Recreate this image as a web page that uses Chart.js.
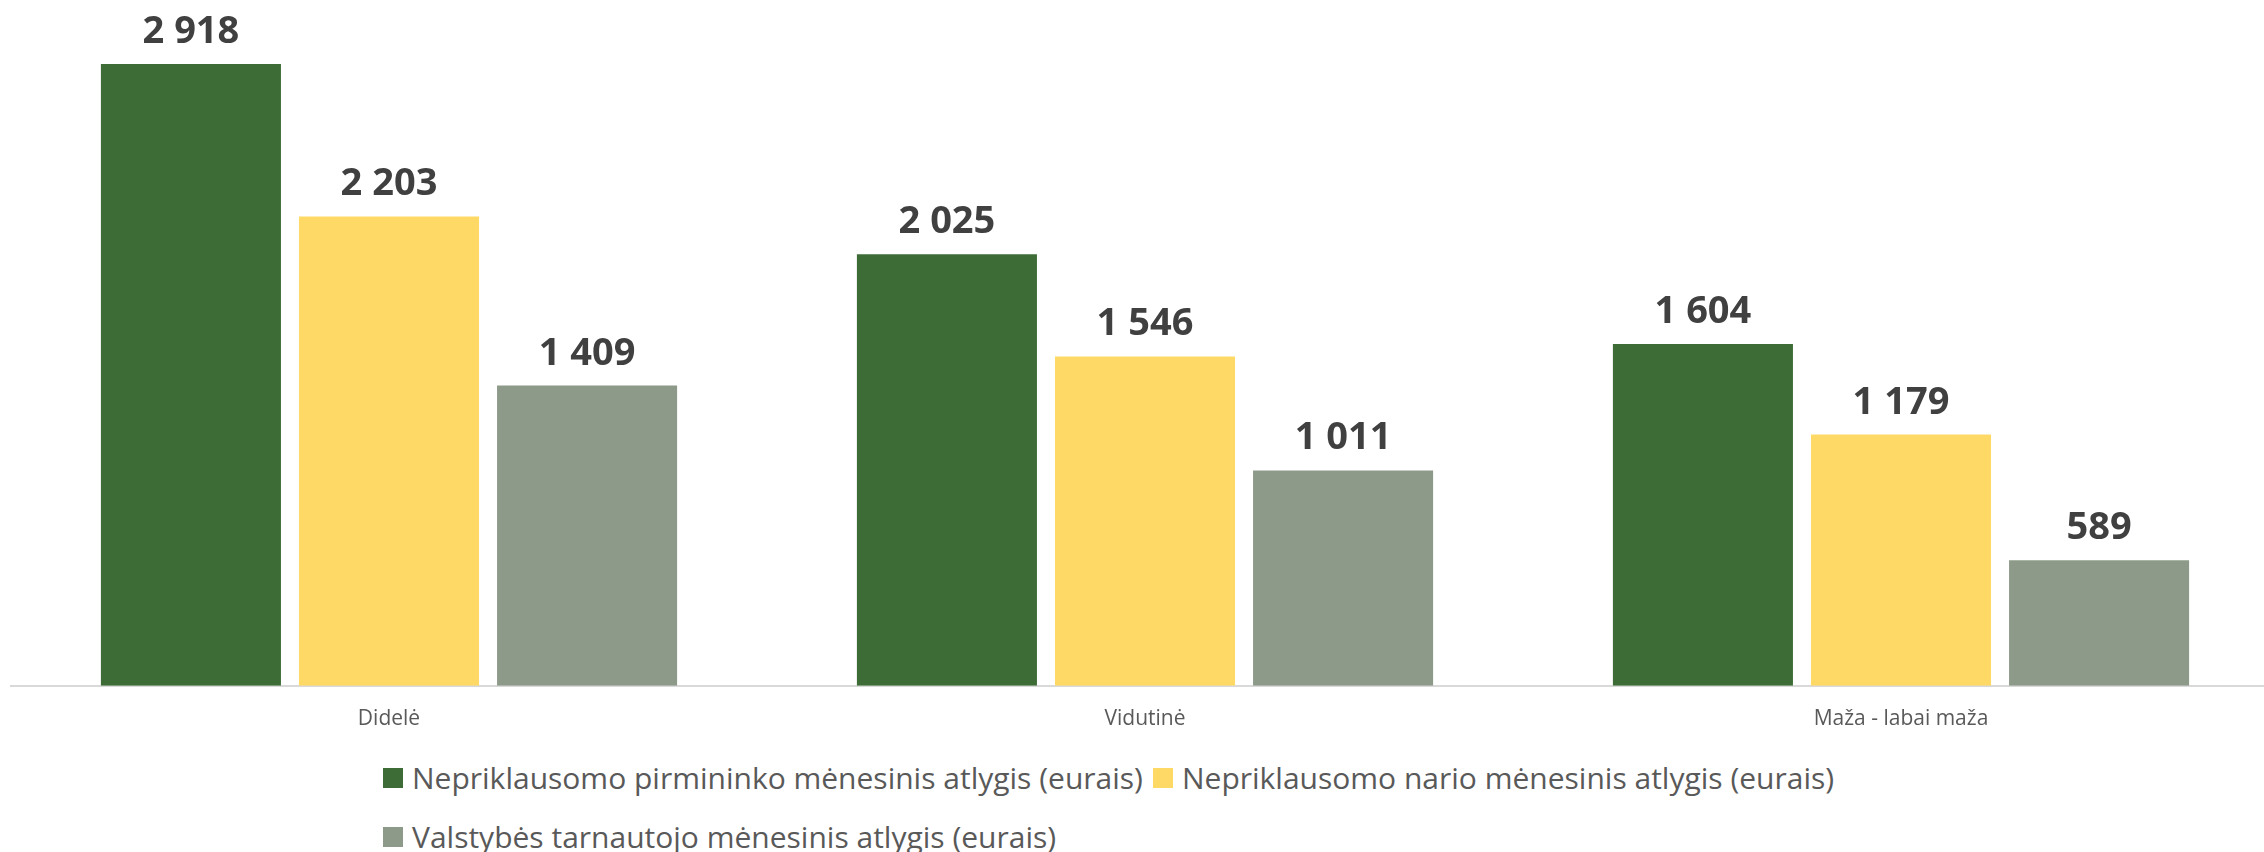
<!DOCTYPE html>
<html lang="lt">
<head>
<meta charset="utf-8">
<script src="https://cdn.jsdelivr.net/npm/chart.js@4/dist/chart.umd.min.js"></script>
<style>
  html, body { margin: 0; padding: 0; background: #fff; overflow: hidden; }
  body { width: 2264px; height: 852px; position: relative; }
  #wrap { position: absolute; left: 0; top: 0; width: 2290px; height: 745px; }
  #legend { position: absolute; left: 383px; top: 748px; width: 1600px;
    display: flex; flex-wrap: wrap; font-family: "Open Sans", sans-serif;
    font-size: 30px; color: #595959; }
  #legend .it { display: inline-flex; align-items: center; height: 59px;
    margin-right: 10px; white-space: nowrap; }
  #legend .sw { width: 20px; height: 20px; margin-right: 9px; }
</style>
</head>
<body>
<div id="wrap"><canvas id="c"></canvas></div>
<div id="legend"></div>
<script>
// Atlygis pagal įmonės dydį
const CATEGORIES = ["Didelė", "Vidutinė", "Maža - labai maža"];
const SERIES = [
  "Nepriklausomo pirmininko mėnesinis atlygis (eurais)",
  "Nepriklausomo nario mėnesinis atlygis (eurais)",
  "Valstybės tarnautojo mėnesinis atlygis (eurais)",
];
const PIRMININKO = [2918, 2025, 1604];
const NARIO = [2203, 1546, 1179];
const TARNAUTOJO = [1409, 1011, 589];

const GREEN = "#3D6C36", YELLOW = "#FFD966", GREY = "#8D9A89";
const COLORS = [GREEN, YELLOW, GREY];

const fmt = (v) => String(v).replace(/\B(?=(\d{3})+(?!\d))/g, " ");

// value labels above the bars
const barLabels = {
  id: "barLabels",
  afterDatasetsDraw(chart) {
    const g = chart.ctx;
    g.save();
    g.font = "bold 38px 'Open Sans', sans-serif";
    g.fillStyle = "#404040";
    g.textAlign = "center";
    g.textBaseline = "alphabetic";
    chart.data.datasets.forEach((ds, i) => {
      chart.getDatasetMeta(i).data.forEach((bar, j) => {
        g.fillText(fmt(ds.data[j]), bar.x, bar.y - 21);
      });
    });
    g.restore();
  },
};

new Chart(document.getElementById("c"), {
  type: "bar",
  data: {
    labels: CATEGORIES,
    datasets: [PIRMININKO, NARIO, TARNAUTOJO].map((d, i) => ({
      label: SERIES[i], data: d, backgroundColor: COLORS[i],
      categoryPercentage: 0.786, barPercentage: 0.909,
    })),
  },
  options: {
    responsive: true, maintainAspectRatio: false, animation: false,
    layout: { padding: { left: 11, right: 11, top: 4, bottom: 0 } },
    plugins: { legend: { display: false }, tooltip: { enabled: false } },
    scales: {
      x: {
        grid: { display: false },
        border: { color: "#D9D9D9", width: 2 },
        ticks: { color: "#595959", padding: 13,
          font: { family: "'Open Sans', sans-serif", size: 21 } },
      },
      y: { display: false, min: 0, max: 3200 },
    },
  },
  plugins: [barLabels],
});

const lg = document.getElementById("legend");
SERIES.forEach((s, i) => {
  const it = document.createElement("span");
  it.className = "it";
  it.innerHTML = `<span class="sw" style="background:${COLORS[i]}"></span>${s}`;
  lg.appendChild(it);
});
</script>
</body>
</html>
